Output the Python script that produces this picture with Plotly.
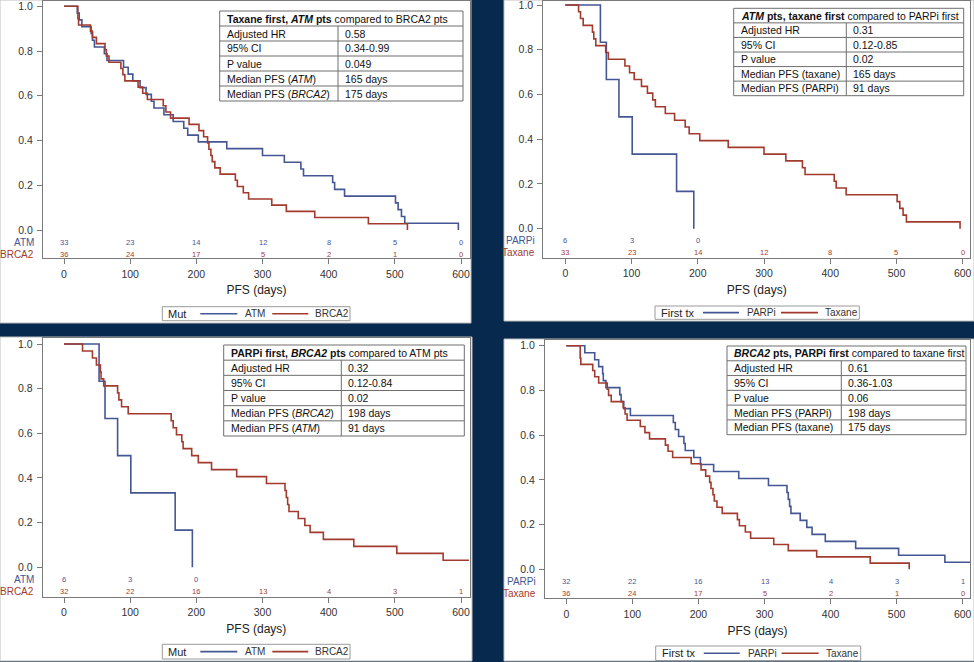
import plotly.graph_objects as go

W, H = 974, 662
NAVY = "#06294d"
BLUE = "#445694"
RED = "#A23A2E"
FONT = "Liberation Sans"

# ---------------- data (days to progression) ----------------
atm_taxane_times = [20, 23, 27, 41, 43, 46, 61, 65, 90, 97, 104, 115, 124, 132, 136, 151,
                    165, 181, 187, 203, 246, 300, 333, 358, 362, 406, 409, 424, 501, 505,
                    510, 515, 596]
atm_taxane_n = 33
brca2_taxane_times = [21, 21, 22, 40, 43, 49, 62, 64, 68, 86, 89, 92, 112, 119, 126, 150,
                      154, 161, 189, 204, 211, 217, 219, 222, 224, 228, 236, 259, 262, 271,
                      279, 314, 336, 379, 460, 519]
brca2_taxane_n = 36
atm_parpi_times = [53, 62, 81, 101, 168, 194]
atm_parpi_n = 6
brca2_parpi_times = [28, 43, 49, 55, 56, 60, 81, 83, 87, 97, 162, 165, 170, 178, 180, 193,
                     203, 223, 261, 306, 334, 336, 338, 340, 354, 364, 372, 392, 438, 503, 573]
brca2_parpi_n = 32
brca2_parpi_last_followup = 612

risk_days = [0, 100, 200, 300, 400, 500, 600]
atm_taxane_risk = [33, 23, 14, 12, 8, 5, 0]
brca2_taxane_risk = [36, 24, 17, 5, 2, 1, 0]
atm_parpi_risk = [6, 3, 0]
brca2_parpi_risk = [32, 22, 16, 13, 4, 3, 1]

y_ticks = [0.0, 0.2, 0.4, 0.6, 0.8, 1.0]
x_ticks = [0, 100, 200, 300, 400, 500, 600]

tables = [
    ["<b>Taxane first, <i>ATM</i> pts</b> compared to BRCA2 pts",
     ("Adjusted HR", "0.58"), ("95% CI", "0.34-0.99"), ("P value", "0.049"),
     ("Median PFS (<i>ATM</i>)", "165 days"), ("Median PFS (<i>BRCA2</i>)", "175 days")],
    ["<b><i>ATM</i> pts, taxane first</b> compared to PARPi first",
     ("Adjusted HR", "0.31"), ("95% CI", "0.12-0.85"), ("P value", "0.02"),
     ("Median PFS (taxane)", "165 days"), ("Median PFS (PARPi)", "91 days")],
    ["<b>PARPi first, <i>BRCA2</i> pts</b> compared to ATM pts",
     ("Adjusted HR", "0.32"), ("95% CI", "0.12-0.84"), ("P value", "0.02"),
     ("Median PFS (<i>BRCA2</i>)", "198 days"), ("Median PFS (<i>ATM</i>)", "91 days")],
    ["<b><i>BRCA2</i> pts, PARPi first</b> compared to taxane first",
     ("Adjusted HR", "0.61"), ("95% CI", "0.36-1.03"), ("P value", "0.06"),
     ("Median PFS (PARPi)", "198 days"), ("Median PFS (taxane)", "175 days")],
]


def km(times, n, last=None):
    xs, ys = [0], [1.0]
    s, at = 1.0, n
    for t in sorted(times):
        s *= (at - 1) / at
        at -= 1
        xs.append(t)
        ys.append(s)
    if last is not None and last > xs[-1]:
        xs.append(last)
        ys.append(s)
    return xs, ys


curves = {
    "atm_taxane": km(atm_taxane_times, atm_taxane_n),
    "brca2_taxane": km(brca2_taxane_times, brca2_taxane_n),
    "atm_parpi": km(atm_parpi_times, atm_parpi_n),
    "brca2_parpi": km(brca2_parpi_times, brca2_parpi_n, brca2_parpi_last_followup),
}

# legend item offsets from the box's left edge: (line start, line end, label start) per entry
MUT_ITEMS = [(38, 75, 81), (110, 146, 151)]
TX_ITEMS = [(48, 84, 90), (126, 163, 168)]

panels = [
    dict(legend_title="Mut", items=MUT_ITEMS,
         series=[("ATM", "atm_taxane", BLUE, atm_taxane_risk),
                 ("BRCA2", "brca2_taxane", RED, brca2_taxane_risk)],
         panel=(0, 0, 471, 323), frame=(43, 1, 470, 258),
         x0=64, x600=461, y1=6.3, y0=230, rows=(242, 254), lab_right=35.5,
         table=(219.7, 11, 463, 101, 338), legend=(162.3, 306.7, 350, 320.7)),
    dict(legend_title="First tx", items=TX_ITEMS,
         series=[("PARPi", "atm_parpi", BLUE, atm_parpi_risk),
                 ("Taxane", "atm_taxane", RED, atm_taxane_risk)],
         panel=(504, 0, 974, 321), frame=(543.3, 1, 970, 257.7),
         x0=565.3, x600=962.7, y1=5, y0=228.7, rows=(240.7, 252.7), lab_right=537,
         table=(733.7, 8.3, 963.7, 95.7, 846.3), legend=(655, 306, 859.3, 319.3)),
    dict(legend_title="Mut", items=MUT_ITEMS,
         series=[("ATM", "atm_parpi", BLUE, atm_parpi_risk),
                 ("BRCA2", "brca2_parpi", RED, brca2_parpi_risk)],
         panel=(0, 337, 472, 661), frame=(42.7, 337.5, 470, 596.7),
         x0=64, x600=461, y1=344, y0=567.3, rows=(579.3, 591.7), lab_right=35.5,
         table=(223.7, 345, 464.3, 436, 341.3), legend=(162.3, 644.3, 350, 659)),
    dict(legend_title="First tx", items=TX_ITEMS,
         series=[("PARPi", "brca2_parpi", BLUE, brca2_parpi_risk),
                 ("Taxane", "brca2_taxane", RED, brca2_taxane_risk)],
         panel=(504, 339, 974, 661), frame=(545, 340, 970, 598.3),
         x0=566.3, x600=962.7, y1=345.7, y0=569.3, rows=(581.3, 593.3), lab_right=538,
         table=(727, 346, 966, 434.7, 841.3), legend=(655.7, 646, 860.7, 660.5)),
]


def px(x):
    return x / W


def py(y):
    return 1 - y / H


fig = go.Figure()
shapes, annotations = [], []
layout = {}

for i, p in enumerate(panels, start=1):
    sx = "" if i == 1 else str(i)
    xref, yref = "x" + sx, "y" + sx

    fl, ft, fr, fb = p["frame"]
    dpp = 600 / (p["x600"] - p["x0"])
    upp = 1 / (p["y0"] - p["y1"])
    xr = [(fl - p["x0"]) * dpp, (fr - p["x0"]) * dpp]
    yr = [(p["y0"] - fb) * upp, (p["y0"] - ft) * upp]

    axis_common = dict(showgrid=False, zeroline=False, showline=True, mirror=True,
                       linecolor="#7a7a7a", linewidth=1, ticks="outside", ticklen=5,
                       tickcolor="#7a7a7a", tickfont=dict(size=10.5, color="#333"),
                       ticklabeloverflow="allow", automargin=False)
    layout["xaxis" + sx] = dict(domain=[px(fl), px(fr)], range=xr, anchor=yref,
                                tickvals=x_ticks, ticklabelstandoff=1,
                                title=dict(text="PFS (days)", font=dict(size=12, color="#222"),
                                           standoff=7),
                                **axis_common)
    layout["yaxis" + sx] = dict(domain=[py(fb), py(ft)], range=yr, anchor=xref,
                                tickvals=y_ticks, tickformat=".1f", ticklabelstandoff=2,
                                **axis_common)

    # white panel
    L, T, R, B = p["panel"]
    shapes.append(dict(type="rect", xref="paper", yref="paper", x0=px(L), x1=px(R),
                       y0=py(B), y1=py(T), fillcolor="white",
                       line=dict(color="#bdbdbd", width=1), layer="below"))

    # survival curves
    for label, key, color, risk in p["series"]:
        xs, ys = curves[key]
        fig.add_trace(go.Scatter(x=xs, y=ys, mode="lines", name=label,
                                 line=dict(color=color, width=1.6, shape="hv"),
                                 xaxis=xref, yaxis=yref, showlegend=False,
                                 hoverinfo="skip"))

    # number at risk
    for (label, key, color, risk), rowpx in zip(p["series"], p["rows"]):
        yv = (p["y0"] - rowpx) * upp
        annotations.append(dict(xref="paper", yref=yref, x=px(p["lab_right"]), y=yv,
                                text=label, showarrow=False, xanchor="right",
                                yanchor="middle", font=dict(size=10, color=color)))
        for d, n in zip(risk_days, risk):
            annotations.append(dict(xref=xref, yref=yref, x=d, y=yv, text=str(n),
                                    showarrow=False, xanchor="center", yanchor="middle",
                                    font=dict(size=7.5, color=color)))

    # statistics table
    tl, tt, tr, tb, tdiv = p["table"]
    rows = tables[i - 1]
    nrow = len(rows)
    rh = (tb - tt) / nrow
    shapes.append(dict(type="rect", xref="paper", yref="paper", x0=px(tl), x1=px(tr),
                       y0=py(tb), y1=py(tt), fillcolor="white",
                       line=dict(color="#6e6e6e", width=1)))
    for k in range(1, nrow):
        yy = tt + k * rh
        shapes.append(dict(type="line", xref="paper", yref="paper", x0=px(tl), x1=px(tr),
                           y0=py(yy), y1=py(yy), line=dict(color="#6e6e6e", width=1)))
    shapes.append(dict(type="line", xref="paper", yref="paper", x0=px(tdiv), x1=px(tdiv),
                       y0=py(tb), y1=py(tt + rh), line=dict(color="#6e6e6e", width=1)))
    annotations.append(dict(xref="paper", yref="paper", x=px(tl + 5), y=py(tt + rh / 2),
                            text=rows[0], showarrow=False, xanchor="left", yanchor="middle",
                            font=dict(size=10.5, color="#111")))
    for k, (a, b) in enumerate(rows[1:], start=1):
        yc = py(tt + (k + 0.5) * rh)
        annotations.append(dict(xref="paper", yref="paper", x=px(tl + 5), y=yc, text=a,
                                showarrow=False, xanchor="left", yanchor="middle",
                                font=dict(size=10.5, color="#111")))
        annotations.append(dict(xref="paper", yref="paper", x=px(tdiv + 5), y=yc, text=b,
                                showarrow=False, xanchor="left", yanchor="middle",
                                font=dict(size=10.5, color="#111")))

    # legend box
    gl, gt, gr, gb = p["legend"]
    gc = (gt + gb) / 2
    shapes.append(dict(type="rect", xref="paper", yref="paper", x0=px(gl), x1=px(gr),
                       y0=py(gb), y1=py(gt), fillcolor="white",
                       line=dict(color="#9a9a9a", width=1)))
    annotations.append(dict(xref="paper", yref="paper", x=px(gl + 4), y=py(gc),
                            text=p["legend_title"], showarrow=False, xanchor="left",
                            yanchor="middle", font=dict(size=11, color="#222")))
    for (label, key, color, risk), (l0, l1, t0) in zip(p["series"], p["items"]):
        shapes.append(dict(type="line", xref="paper", yref="paper", x0=px(gl + l0),
                           x1=px(gl + l1), y0=py(gc), y1=py(gc),
                           line=dict(color=color, width=1.6)))
        annotations.append(dict(xref="paper", yref="paper", x=px(gl + t0), y=py(gc),
                                text=label, showarrow=False, xanchor="left",
                                yanchor="middle", font=dict(size=10, color="#333")))

fig.update_layout(width=W, height=H,
                  margin=dict(l=0, r=0, t=0, b=0, pad=0, autoexpand=False),
                  paper_bgcolor=NAVY, plot_bgcolor="white",
                  font=dict(family=FONT, color="#222"),
                  shapes=shapes, annotations=annotations, showlegend=False,
                  **layout)

fig.write_html("out.html", config={"displayModeBar": False},
               post_script="document.body.style.margin='0';document.body.style.overflow='hidden';")
